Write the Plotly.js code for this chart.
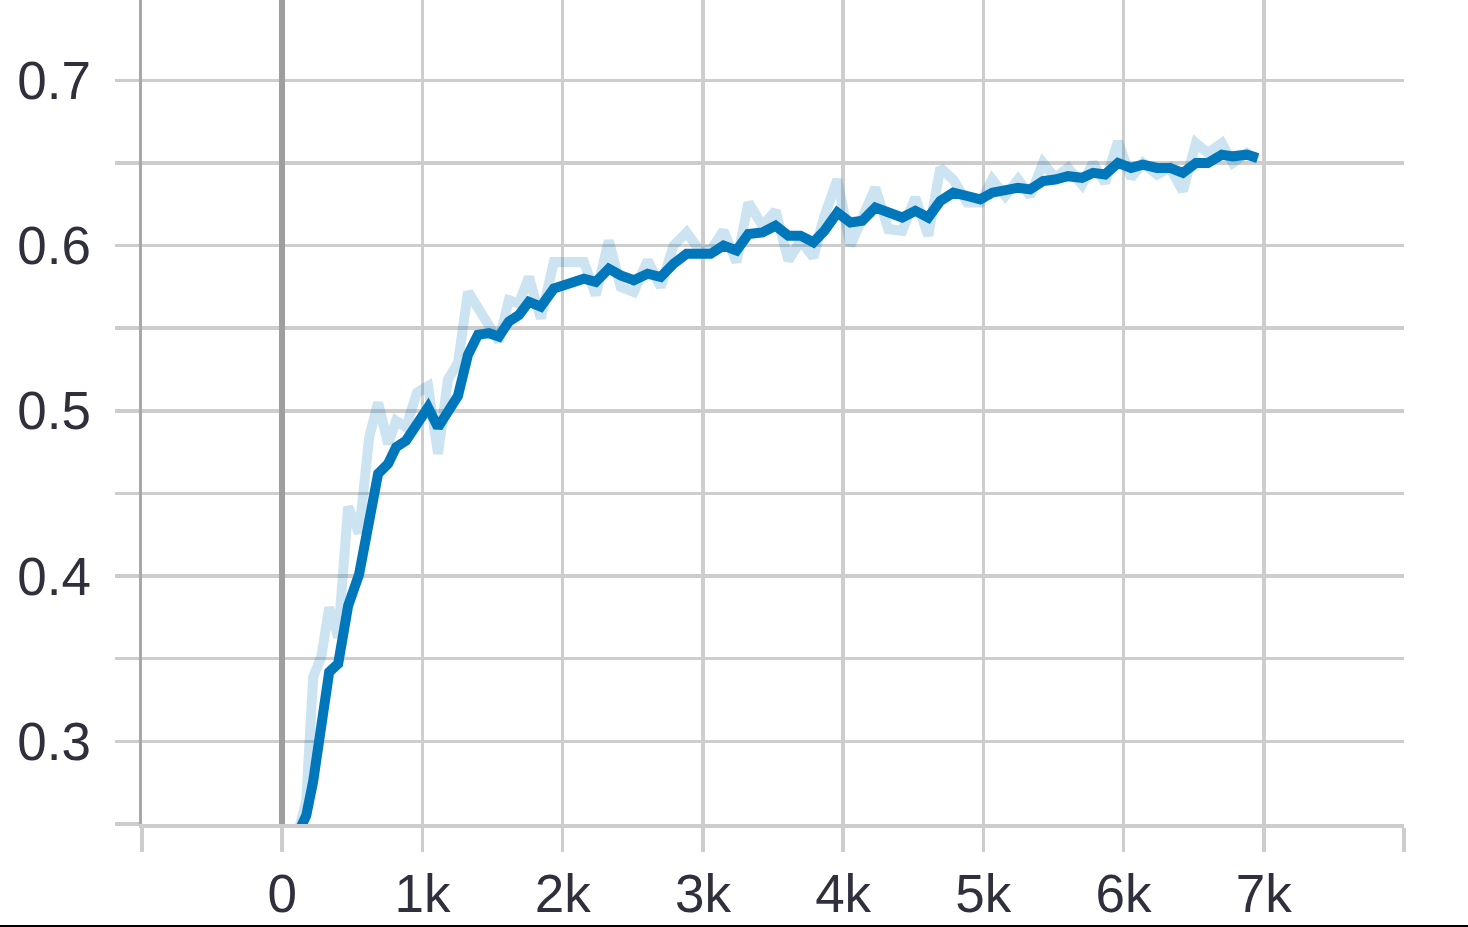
<!DOCTYPE html>
<html>
<head>
<meta charset="utf-8">
<script src="https://cdn.plot.ly/plotly-3.0.1.min.js"></script>
<style>
  html, body { margin: 0; padding: 0; background: #ffffff; }
  #chart { width: 1468px; height: 927px; }
</style>
</head>
<body>
<div id="chart"></div>
<script>
// Training steps (shared by both series)
const steps = [121,171,221,278,335,399,470,548,620,684,
  755,812,883,961,1040,1111,1182,1253,1325,1396,
  1474,1545,1616,1688,1759,1844,1937,2044,2151,2236,
  2329,2414,2507,2606,2699,2791,2884,2969,3055,3147,
  3240,3325,3425,3518,3610,3696,3788,3867,3959,4052,
  4137,4230,4322,4422,4515,4607,4693,4785,4885,4978,
  5063,5156,5248,5334,5426,5512,5604,5704,5782,5868,
  5960,6053,6138,6238,6331,6423,6516,6601,6701,6779,
  6879,6957];

// Raw (unsmoothed) values – faint line
const rawValues = [0.247,0.264,0.339,0.351,0.381,0.363,0.442,0.426,0.484,0.505,
  0.480,0.494,0.490,0.511,0.515,0.474,0.519,0.529,0.572,0.563,
  0.552,0.542,0.567,0.565,0.581,0.556,0.590,0.590,0.590,0.570,
  0.603,0.575,0.572,0.591,0.575,0.600,0.608,0.598,0.597,0.609,
  0.590,0.626,0.612,0.621,0.591,0.603,0.593,0.618,0.640,0.600,
  0.618,0.635,0.610,0.609,0.629,0.606,0.647,0.640,0.626,0.626,
  0.640,0.630,0.640,0.630,0.650,0.641,0.647,0.637,0.650,0.638,
  0.663,0.641,0.650,0.643,0.647,0.633,0.662,0.656,0.662,0.650,
  0.656,0.652];

// Smoothed values – bold line
const smoothValues = [0.246,0.255,0.276,0.313,0.342,0.347,0.382,0.401,0.434,0.462,
  0.468,0.478,0.482,0.492,0.502,0.490,0.500,0.509,0.534,0.546,
  0.547,0.545,0.554,0.558,0.566,0.563,0.574,0.577,0.580,0.578,
  0.586,0.582,0.579,0.583,0.581,0.589,0.595,0.595,0.595,0.600,
  0.597,0.607,0.608,0.612,0.606,0.606,0.602,0.609,0.620,0.614,
  0.615,0.623,0.620,0.617,0.621,0.617,0.627,0.632,0.630,0.628,
  0.632,0.633,0.635,0.634,0.639,0.640,0.642,0.641,0.644,0.643,
  0.650,0.647,0.649,0.647,0.647,0.644,0.650,0.650,0.655,0.654,
  0.655,0.653];

const xTickVals = [-1000,0,1000,2000,3000,4000,5000,6000,7000,8000];
const xTickText = ['', '0', '1k', '2k', '3k', '4k', '5k', '6k', '7k', ''];
const yTickVals = [0.25,0.3,0.35,0.4,0.45,0.5,0.55,0.6,0.65,0.7,0.75];
const yTickText = ['', '0.3', '', '0.4', '', '0.5', '', '0.6', '', '0.7', ''];

const gridColor = '#cdcdcd';
const labelFont = {family: 'Liberation Sans, Arial, sans-serif', size: 53, color: '#30303c'};

const traces = [
  {
    x: steps, y: rawValues, type: 'scatter', mode: 'lines',
    line: {color: 'rgba(0,119,187,0.2)', width: 10},
    hoverinfo: 'skip', showlegend: false
  },
  {
    x: steps, y: smoothValues, type: 'scatter', mode: 'lines',
    line: {color: '#0077bb', width: 10},
    showlegend: false
  }
];

const layout = {
  width: 1468, height: 927,
  margin: {l: 142, r: 64, t: 0, b: 103},
  paper_bgcolor: '#ffffff', plot_bgcolor: '#ffffff',
  showlegend: false,
  xaxis: {
    range: [-1000, 8000],
    tickmode: 'array', tickvals: xTickVals, ticktext: xTickText,
    showgrid: true, gridcolor: gridColor, gridwidth: 3.5,
    ticks: 'outside', ticklen: 24, tickwidth: 3.5, tickcolor: gridColor,
    zeroline: true, zerolinecolor: '#9e9e9e', zerolinewidth: 6,
    showline: true, linecolor: gridColor, linewidth: 4,
    tickfont: labelFont, ticklabelstandoff: -4,
    fixedrange: true
  },
  yaxis: {
    range: [0.25, 0.7486],
    tickmode: 'array', tickvals: yTickVals, ticktext: yTickText,
    showgrid: true, gridcolor: gridColor, gridwidth: 3.5,
    ticks: 'outside', ticklen: 24, tickwidth: 3.5, tickcolor: gridColor,
    zeroline: false,
    showline: true, linecolor: '#a8a8a8', linewidth: 3.5,
    tickfont: labelFont, ticklabelstandoff: 13,
    fixedrange: true
  },
  shapes: [
    {type: 'line', xref: 'paper', yref: 'paper',
     x0: -0.2, x1: 1.2, y0: -0.1238, y1: -0.1238,
     line: {color: '#000000', width: 2}}
  ]
};

Plotly.newPlot('chart', traces, layout, {displayModeBar: false, staticPlot: true});
</script>
</body>
</html>
